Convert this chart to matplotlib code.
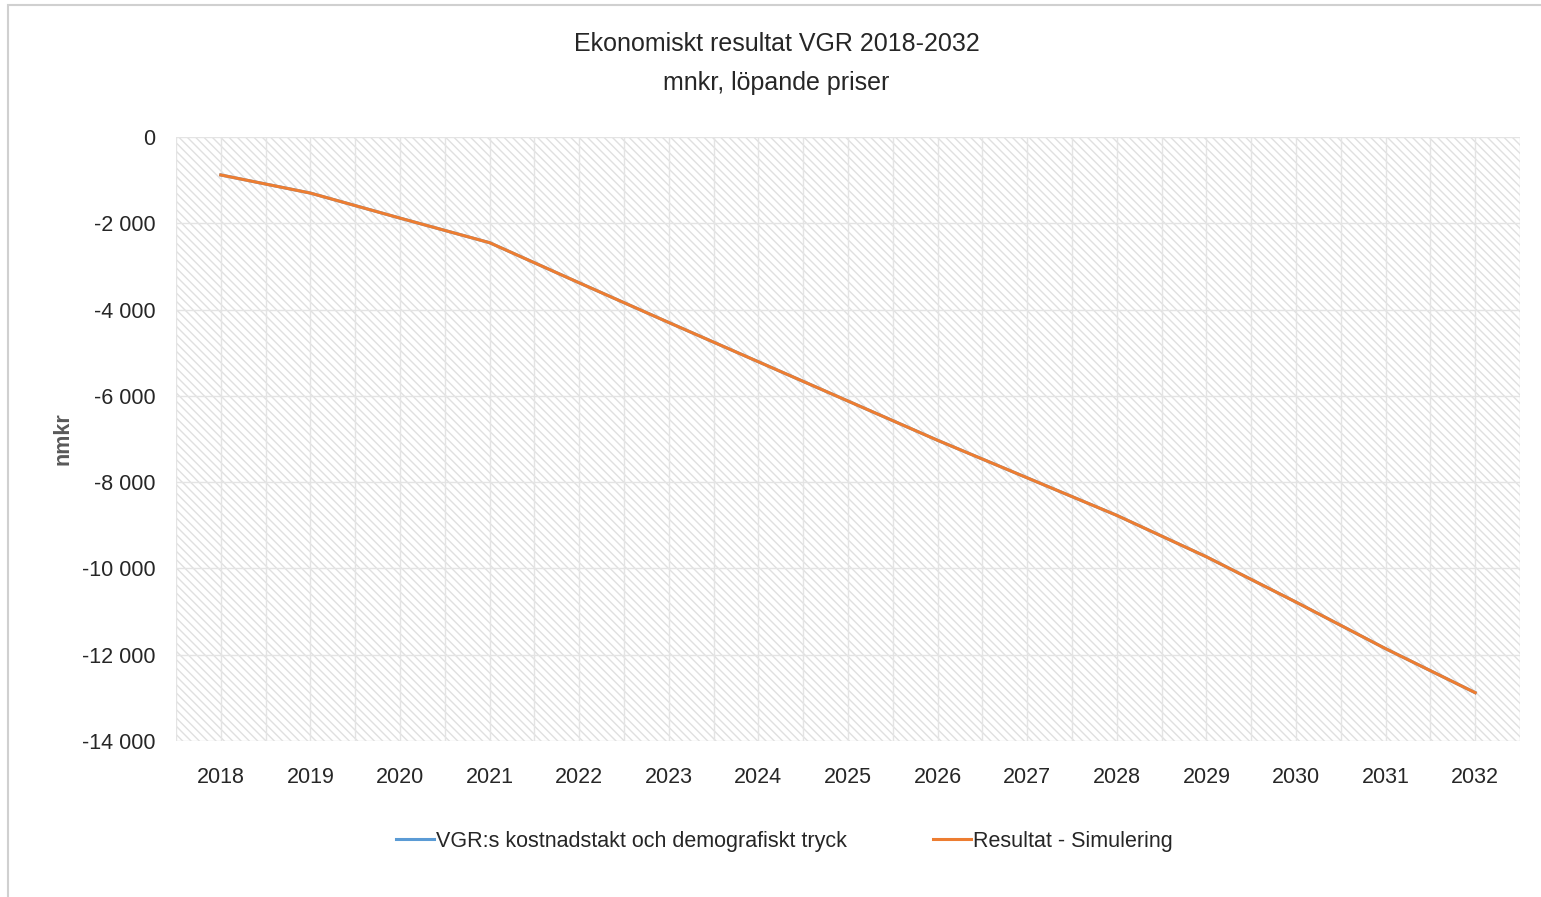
# Ekonomiskt resultat VGR 2018-2032 - line chart
import matplotlib.pyplot as plt
import matplotlib.patches as mpatches
from matplotlib.ticker import FuncFormatter, MultipleLocator

years = [2018, 2019, 2020, 2021, 2022, 2023, 2024, 2025,
         2026, 2027, 2028, 2029, 2030, 2031, 2032]

# mnkr
resultat = [-880, -1300, -1880, -2450, -3380, -4300, -5210, -6120,
            -7030, -7900, -8770, -9730, -10780, -11860, -12880]
# hidden under the orange line in the reference
kostnadstakt = list(resultat)

BLUE = "#5B9BD5"
ORANGE = "#ED7D31"
TEXT = "#262626"

plt.rcParams["font.family"] = ["Liberation Sans", "DejaVu Sans"]
plt.rcParams["hatch.linewidth"] = 1.0

fig = plt.figure(figsize=(15.41, 8.97), dpi=100)
ax = fig.add_axes([176 / 1541, 1 - 741 / 897, (1520 - 176) / 1541, (741 - 137) / 897])

# outer chart frame (cropped at right and bottom)
fig.add_artist(mpatches.Rectangle((8 / 1541, -0.1), 1.2, 1 - 5 / 897 + 0.1,
                                  transform=fig.transFigure, fill=False,
                                  edgecolor="#d0d0d0", linewidth=1.5))

# hatched plot area
ax.set_facecolor("white")
ax.add_patch(mpatches.Rectangle((0, 0), 1, 1, transform=ax.transAxes,
                                facecolor="white", edgecolor="#e0e0e0",
                                hatch="\\\\\\\\", linewidth=0, zorder=0))

x = list(range(len(years)))
ax.plot(x, kostnadstakt, color=BLUE, linewidth=2.2, zorder=3,
        label="VGR:s kostnadstakt och demografiskt tryck")
ax.plot(x, resultat, color=ORANGE, linewidth=2.2, zorder=4,
        label="Resultat - Simulering")

ax.set_xlim(-0.5, len(years) - 0.5)
ax.set_ylim(-14000, 0)
ax.set_xticks(x)
ax.set_xticklabels([str(y) for y in years])
ax.xaxis.set_minor_locator(MultipleLocator(0.5))
ax.yaxis.set_major_locator(MultipleLocator(2000))
ax.yaxis.set_major_formatter(FuncFormatter(lambda v, p: f"{int(v):,}".replace(",", " ")))

ax.grid(True, which="both", axis="x", color="#e4e4e4", linewidth=1, zorder=1)
ax.grid(True, which="major", axis="y", color="#e4e4e4", linewidth=1, zorder=1)
ax.set_axisbelow(True)
for s in ax.spines.values():
    s.set_visible(False)

ax.tick_params(axis="both", which="both", length=0, labelsize=15.5, labelcolor=TEXT)
ax.tick_params(axis="x", pad=19)
ax.tick_params(axis="y", pad=15)

ax.set_ylabel("nmkr", fontsize=15.5, fontweight="bold", color="#595959")
ax.yaxis.set_label_coords((73 - 176) / (1520 - 176), 0.5)

fig.text(0.504, 1 - 44 / 897, "Ekonomiskt resultat VGR 2018-2032", ha="center", va="center",
         fontsize=18, color=TEXT)
fig.text(0.504, 1 - 83 / 897, "mnkr, löpande priser", ha="center", va="center",
         fontsize=18, color=TEXT)

fig.legend(loc="center", bbox_to_anchor=(0.509, 1 - 841 / 897), ncol=2, frameon=False,
           fontsize=15.5, handlelength=1.75, handletextpad=0.1, columnspacing=4.0,
           labelcolor=TEXT)

fig.savefig("out.png", dpi=100)
